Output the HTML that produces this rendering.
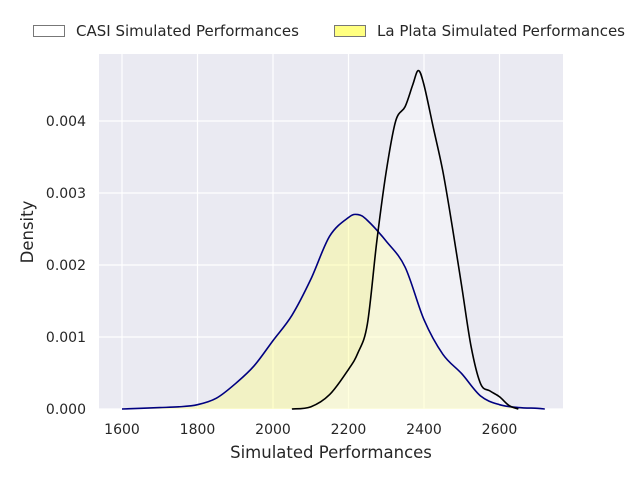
<!DOCTYPE html>
<html><head><meta charset="utf-8"><style>
body{margin:0;background:#fff;}
svg{font-family:"DejaVu Sans","Liberation Sans",sans-serif;}
</style></head><body>
<svg id="chart" width="640" height="480" xmlns="http://www.w3.org/2000/svg">
<rect x="99" y="54" width="464" height="355" fill="#eaeaf2"/>
<g id="grid"></g>
<g id="fills"></g>
<g id="lines"></g>
<g id="axes"></g>
<text x="331" y="458" font-size="16.5" text-anchor="middle" fill="#262626">Simulated Performances</text>
<text transform="translate(33,232) rotate(-90)" font-size="16.5" text-anchor="middle" fill="#262626">Density</text>
<g>
<g>
<rect x="33.5" y="25.5" width="31" height="11" fill="#fff" stroke="#777" stroke-width="1"/>
<text x="76" y="36" font-size="15" fill="#262626">CASI Simulated Performances</text></g>
<g>
<rect x="334.5" y="25.5" width="31" height="11" fill="#ffff80" stroke="#777" stroke-width="1"/>
<text x="377" y="36" font-size="15" fill="#262626">La Plata Simulated Performances</text></g>
</g>
</svg>
<script>
const xTicks=[1600,1800,2000,2200,2400,2600];
const yTicks=[0,0.001,0.002,0.003,0.004];
const yTickLabels=["0.000","0.001","0.002","0.003","0.004"];
const laPlataX=[1600,1650,1700,1750,1800,1850,1900,1950,2000,2050,2100,2150,2200,2225,2250,2300,2350,2400,2450,2500,2550,2600,2650,2700,2720];
const laPlataY=[0,0.00001,0.00002,0.00003,0.00006,0.00015,0.00035,0.0006,0.00095,0.0013,0.0018,0.0024,0.00266,0.0027,0.00262,0.00233,0.00197,0.00124,0.00076,0.00049,0.00018,0.00006,0.00002,0.00001,0];
const casiX=[2050,2100,2150,2200,2225,2250,2275,2300,2325,2350,2370,2385,2400,2425,2450,2475,2500,2525,2550,2575,2600,2625,2650];
const casiY=[0,0.00003,0.0002,0.00055,0.00078,0.00118,0.00233,0.0033,0.0040,0.0042,0.0045,0.0047,0.0045,0.0039,0.0033,0.00253,0.0017,0.00086,0.00035,0.00025,0.00017,0.00005,0];
const NS="http://www.w3.org/2000/svg";
const sx=v=>122+(v-1600)*75.5/200;
const sy=v=>409-v*72000;
function mk(t,a,p){const e=document.createElementNS(NS,t);for(const k in a)e.setAttribute(k,a[k]);p.appendChild(e);return e;}
const grid=document.getElementById('grid'),axes=document.getElementById('axes'),fills=document.getElementById('fills'),lines=document.getElementById('lines');
xTicks.forEach(v=>{
 const l=mk('line',{x1:sx(v),x2:sx(v),y1:54,y2:409,stroke:'#fff','stroke-width':1.2},grid);
 
 
 const t=mk('text',{x:sx(v),y:434,'font-size':14,'text-anchor':'middle',fill:'#262626'},axes);
 t.textContent=v;
 
 
});
yTicks.forEach((v,i)=>{
 const l=mk('line',{x1:99,x2:563,y1:sy(v),y2:sy(v),stroke:'#fff','stroke-width':1.2},grid);
 
 
 const t=mk('text',{x:86,y:sy(v)+5,'font-size':14,'text-anchor':'end',fill:'#262626'},axes);
 t.textContent=yTickLabels[i];
 
 
});
function smooth(xs,ys){
 const p=xs.map((x,i)=>[sx(x),sy(ys[i])]);
 let d='M'+p[0][0]+','+p[0][1];
 for(let i=0;i<p.length-1;i++){
  const p0=p[Math.max(0,i-1)],p1=p[i],p2=p[i+1],p3=p[Math.min(p.length-1,i+2)];
  const c1=[p1[0]+(p2[0]-p0[0])/6,p1[1]+(p2[1]-p0[1])/6],c2=[p2[0]-(p3[0]-p1[0])/6,p2[1]-(p3[1]-p1[1])/6];
  d+=' C'+c1[0]+','+c1[1]+' '+c2[0]+','+c2[1]+' '+p2[0]+','+p2[1];
 }
 return d;
}
function draw(xs,ys,fill,op,stroke,name){
 const d=smooth(xs,ys);
 const f=mk('path',{d:d+' L'+sx(xs[xs.length-1])+','+sy(0)+' L'+sx(xs[0])+','+sy(0)+'Z',fill:fill,'fill-opacity':op,stroke:'none'},fills);
 
 
 const l=mk('path',{d:d,fill:'none',stroke:stroke,'stroke-width':1.6},lines);
 
 
}
draw(laPlataX,laPlataY,'#ffff80',0.4,'#000080','la-plata-density');
draw(casiX,casiY,'#ffffff',0.35,'#000','casi-density');
</script>
</body></html>
